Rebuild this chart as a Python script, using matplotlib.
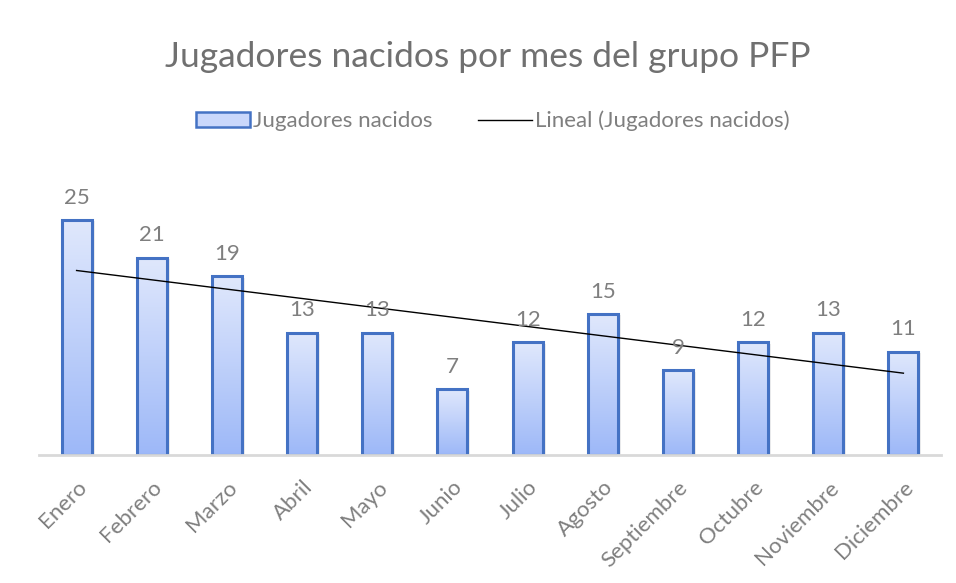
import numpy as np
import matplotlib
matplotlib.use("Agg")
import matplotlib.pyplot as plt
from matplotlib.colors import LinearSegmentedColormap
from matplotlib.lines import Line2D
from matplotlib.patches import Rectangle

plt.rcParams['font.family'] = ['Lato', 'DejaVu Sans']

months = ["Enero", "Febrero", "Marzo", "Abril", "Mayo", "Junio", "Julio",
          "Agosto", "Septiembre", "Octubre", "Noviembre", "Diciembre"]
players = [25, 21, 19, 13, 13, 7, 12, 15, 9, 12, 13, 11]
title = "Jugadores nacidos por mes del grupo PFP"
series_label = "Jugadores nacidos"
trend_label = "Lineal (Jugadores nacidos)"

grey = "#7f7f7f"
edge = "#4472c4"

fig = plt.figure(figsize=(9.56, 5.83), dpi=100)
ax = fig.add_axes([39/956, 128/583, 902/956, 282/583])

x = np.arange(len(months))
bars = ax.bar(x, players, width=0.4, facecolor="none", edgecolor=edge, linewidth=2.2, zorder=3)

cmap = LinearSegmentedColormap.from_list("g", ["#9db8f8", "#e0e8fc"])
grad = np.linspace(0, 1, 256).reshape(-1, 1)
for b in bars:
    x0, y0 = b.get_x(), b.get_y()
    w, h = b.get_width(), b.get_height()
    im = ax.imshow(grad, cmap=cmap, aspect="auto", origin="lower",
                   extent=[x0, x0 + w, y0, y0 + h], zorder=2)
    clip = Rectangle((x0, y0), w, h, transform=ax.transData, facecolor="none", edgecolor="none")
    ax.add_patch(clip)
    im.set_clip_path(clip)
    ax.add_patch(Rectangle((x0 + 0.04, y0), w, h - 0.15, facecolor="#000000", alpha=0.07,
                           edgecolor="none", zorder=1))

for xi, v in zip(x, players):
    ax.annotate(str(v), (xi, v), xytext=(0, 9), textcoords="offset points",
                ha="center", va="bottom", fontsize=16, color=grey, zorder=5)

coef = np.polyfit(x, players, 1)
ax.plot(x, np.polyval(coef, x), color="black", linewidth=1.0, zorder=4)

ax.set_xlim(-0.5, len(months) - 0.5)
ax.set_ylim(0, 30)
ax.set_xticks(x)
ax.set_xticklabels(months, rotation=45, ha="right", rotation_mode="anchor",
                   fontsize=16, color=grey)
ax.tick_params(axis="x", length=0, pad=16)
ax.set_yticks([])
for s in ["top", "right", "left"]:
    ax.spines[s].set_visible(False)
ax.spines["bottom"].set_color("#d9d9d9")
ax.spines["bottom"].set_linewidth(2)
ax.spines["bottom"].set_zorder(6)

fig.text(487.5/956, 1 - 57/583, title, ha="center", va="center", fontsize=25.5, color="#707070")

handles = [Rectangle((0, 0), 1, 1, facecolor="#c9d7fb", edgecolor=edge, linewidth=1.8),
           Line2D([0], [0], color="black", linewidth=1.0)]
fig.legend(handles, [series_label, trend_label], loc="center",
           bbox_to_anchor=(492.5/956, 1 - 121/583), ncol=2, frameon=False,
           fontsize=16, labelcolor=grey, handlelength=2.45, handleheight=0.6,
           handletextpad=0.12, columnspacing=2.05)

fig.savefig("out.png", dpi=100, facecolor="white")
